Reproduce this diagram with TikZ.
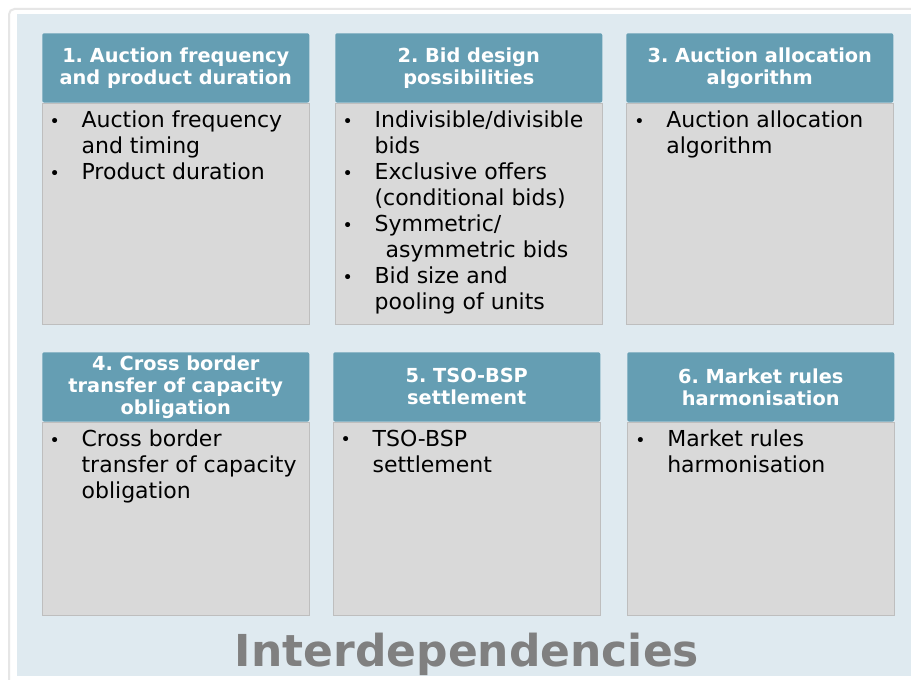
\documentclass[tikz,border=0pt]{standalone}
\usepackage{fontspec}
\setmainfont{DejaVu Sans}
\usetikzlibrary{positioning}
\frenchspacing
\definecolor{panelbg}{RGB}{223,234,240}
\definecolor{headbg}{RGB}{101,158,179}
\definecolor{bodybg}{RGB}{217,217,217}
\definecolor{bodyline}{RGB}{190,190,190}
\definecolor{titlegray}{RGB}{128,128,128}
\definecolor{framegray}{RGB}{230,230,230}
\newcommand{\bul}{\makebox[24pt][l]{\fontsize{13pt}{13pt}\selectfont\raisebox{0.5pt}{•}}}
\newcommand{\ind}{\hspace*{24pt}}
\begin{document}
\begin{tikzpicture}[x=0.75pt, y=-0.75pt,
  head/.style={shape=rectangle, fill=headbg, rounded corners=1.5pt, minimum width=200.25pt, minimum height=52pt, anchor=north west, inner sep=0pt, align=center, text=white, font=\fontsize{14.5pt}{16.5pt}\selectfont\bfseries},
  body/.style={shape=rectangle, fill=bodybg, draw=bodyline, line width=0.8pt, minimum width=200.25pt, anchor=north west, inner sep=0pt},
  items/.style={anchor=north west, inner sep=0pt, align=left, font=\fontsize{16.5pt}{19.5pt}\selectfont}]
\useasboundingbox (0,0) rectangle (911,680);
\fill[white] (0,0) rectangle (911,680);
\draw[framegray, line width=1.5pt, rounded corners=4pt] (9,680) -- (9,9) -- (911,9);
\fill[panelbg] (17,14) rectangle (911,676);
% row one
\node[head] (h1) at (42,33) {1. Auction frequency\\and product duration};
\node[head] (h2) at (335,33) {2. Bid design\\possibilities};
\node[head] (h3) at (626,33) {3. Auction allocation\\algorithm};
\node[body, minimum height=165.75pt] (b1) at (h1.south west) {};
\node[body, minimum height=165.75pt] (b2) at (h2.south west) {};
\node[body, minimum height=165.75pt] (b3) at (h3.south west) {};
% row two
\node[head] (h4) at (42,352) {4. Cross border\\transfer of capacity\\obligation};
\node[head] (h5) at (333,352) {5. TSO-BSP\\settlement};
\node[head] (h6) at (627,352) {6. Market rules\\harmonisation};
\node[body, minimum height=144.75pt] (b4) at (h4.south west) {};
\node[body, minimum height=144.75pt] (b5) at (h5.south west) {};
\node[body, minimum height=144.75pt] (b6) at (h6.south west) {};
% bullet texts
\node[items, below right=6pt and 5.5pt of b1.north west] (t1) {\bul Auction frequency\\\ind and timing\\\bul Product duration};
\node[items, below right=6pt and 5.5pt of b2.north west] (t2) {\bul Indivisible/divisible\\\ind bids\\\bul Exclusive offers\\\ind (conditional bids)\\\bul Symmetric/\\\ind\hspace*{3pt} asymmetric bids\\\bul Bid size and\\\ind pooling of units};
\node[items, below right=6pt and 6pt of b3.north west] (t3) {\bul Auction allocation\\\ind algorithm};
\node[items, below right=6pt and 5.5pt of b4.north west] (t4) {\bul Cross border\\\ind transfer of capacity\\\ind obligation};
\node[items, below right=6pt and 5.5pt of b5.north west] (t5) {\bul TSO-BSP\\\ind settlement};
\node[items, below right=6pt and 6pt of b6.north west] (t6) {\bul Market rules\\\ind harmonisation};
% title
\node[anchor=base, inner sep=0pt, text=titlegray, font=\fontsize{33pt}{33pt}\selectfont\bfseries] (title) at (467,667) {Interdependencies};
\end{tikzpicture}
\end{document}
